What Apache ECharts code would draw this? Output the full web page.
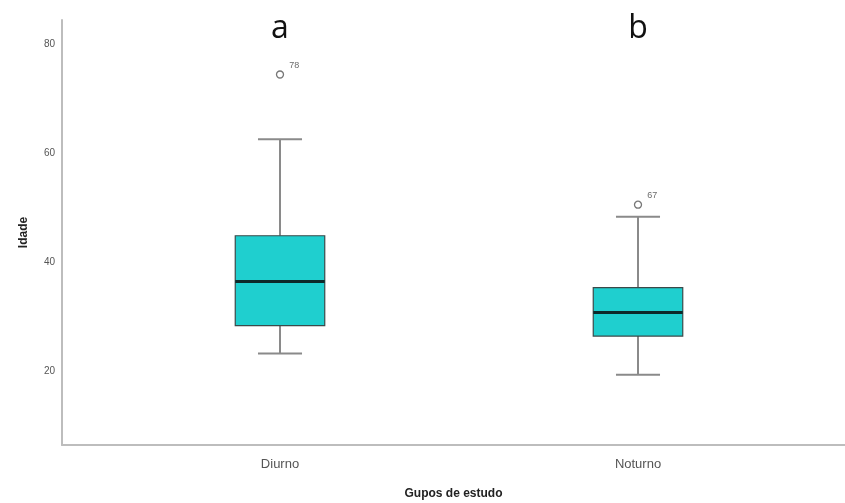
<!DOCTYPE html>
<html>
<head>
<meta charset="utf-8">
<script src="https://cdn.jsdelivr.net/npm/echarts@6/dist/echarts.min.js"></script>
<style>
  html, body { margin: 0; padding: 0; background: #fff; }
  #chart { width: 845px; height: 503px; }
</style>
</head>
<body>
<div id="chart"></div>
<script>
// Age distribution per study group
const categories = ['Diurno', 'Noturno'];
const groupLetters = ['a', 'b'];
const whiskerLow = [23.2, 19.3];
const quartile1 = [28.3, 26.4];
const medians = [36.4, 30.7];
const quartile3 = [44.8, 35.3];
const whiskerHigh = [62.5, 48.3];
const outlierValues = [74.4, 50.5];
const outlierIds = ['78', '67'];
const yTicks = [20, 40, 60, 80];

const yMin = 6.4, yMax = 84.4;

const boxData = categories.map((c, i) => [i, whiskerLow[i], quartile1[i], medians[i], quartile3[i], whiskerHigh[i]]);
const outlierData = categories.map((c, i) => [i, outlierValues[i], outlierIds[i]]);

function renderBox(params, api) {
  const idx = api.value(0);
  const pLow = api.coord([idx, api.value(1)]);
  const pQ1 = api.coord([idx, api.value(2)]);
  const pMed = api.coord([idx, api.value(3)]);
  const pQ3 = api.coord([idx, api.value(4)]);
  const pHigh = api.coord([idx, api.value(5)]);
  const band = api.size([1, 0])[0];
  const boxW = band * 0.25;
  const capW = band * 0.123;
  const cx = pMed[0];
  const whisker = { stroke: '#8a8a8a', lineWidth: 2 };
  return {
    type: 'group',
    children: [
      { type: 'line', shape: { x1: cx, y1: pHigh[1], x2: cx, y2: pQ3[1] }, style: whisker },
      { type: 'line', shape: { x1: cx, y1: pQ1[1], x2: cx, y2: pLow[1] }, style: whisker },
      { type: 'line', shape: { x1: cx - capW / 2, y1: pHigh[1], x2: cx + capW / 2, y2: pHigh[1] }, style: whisker },
      { type: 'line', shape: { x1: cx - capW / 2, y1: pLow[1], x2: cx + capW / 2, y2: pLow[1] }, style: whisker },
      { type: 'rect', shape: { x: cx - boxW / 2, y: pQ3[1], width: boxW, height: pQ1[1] - pQ3[1] },
        style: { fill: '#1fcfcf', stroke: '#3a4a4a', lineWidth: 1.2 } },
      { type: 'line', shape: { x1: cx - boxW / 2, y1: pMed[1], x2: cx + boxW / 2, y2: pMed[1] },
        style: { stroke: '#0c2a2a', lineWidth: 3 } }
    ]
  };
}

const chart = echarts.init(document.getElementById('chart'), null, { renderer: 'canvas' });
chart.setOption({
  animation: false,
  backgroundColor: '#ffffff',
  grid: [
    { left: 101, right: 28, top: 20, bottom: 58, outerBoundsMode: 'none', containLabel: false },
    { left: 62, right: 0, top: 20, bottom: 58, outerBoundsMode: 'none', containLabel: false }
  ],
  xAxis: [
    {
      gridIndex: 0, type: 'category', data: categories, boundaryGap: true,
      axisLine: { show: false }, axisTick: { show: false },
      axisLabel: { color: '#555', fontSize: 13, fontFamily: 'Liberation Sans', margin: 13 }
    },
    {
      gridIndex: 0, type: 'category', data: groupLetters, position: 'top', boundaryGap: true,
      axisLine: { show: false }, axisTick: { show: false },
      axisLabel: { color: '#111', fontSize: 32, fontFamily: 'Open Sans', margin: -25, align: 'center' }
    },
    {
      gridIndex: 1, type: 'value', min: 0, max: 1,
      axisLine: { show: true, lineStyle: { color: '#bdbdbd', width: 2 } },
      axisTick: { show: false }, axisLabel: { show: false }, splitLine: { show: false },
      name: 'Gupos de estudo', nameLocation: 'middle', nameGap: 43,
      nameTextStyle: { fontWeight: 'bold', fontSize: 12, color: '#222', fontFamily: 'Liberation Sans' }
    }
  ],
  yAxis: [
    {
      gridIndex: 0, type: 'value', min: yMin, max: yMax, show: false
    },
    {
      gridIndex: 1, type: 'value', min: yMin, max: yMax,
      axisLine: { show: true, lineStyle: { color: '#bdbdbd', width: 2 } },
      axisTick: { show: false },
      splitLine: { show: false },
      axisLabel: { customValues: yTicks, color: '#555', fontSize: 10, fontFamily: 'Liberation Sans', margin: 7 },
      name: 'Idade', nameLocation: 'middle', nameGap: 32, nameRotate: 90,
      nameTextStyle: { fontWeight: 'bold', fontSize: 12, color: '#222', fontFamily: 'Liberation Sans' }
    }
  ],
  series: [
    {
      type: 'custom', xAxisIndex: 0, yAxisIndex: 0,
      renderItem: renderBox, data: boxData,
      encode: { x: 0, y: [1, 2, 3, 4, 5] }
    },
    {
      type: 'scatter', xAxisIndex: 0, yAxisIndex: 0,
      data: outlierData, symbol: 'circle', symbolSize: 7,
      itemStyle: { color: '#fff', borderColor: '#555', borderWidth: 1.3 },
      label: {
        show: true, position: 'right', offset: [0, -9],
        formatter: p => p.value[2], fontSize: 9, color: '#444', fontFamily: 'Liberation Sans'
      }
    }
  ]
});
</script>
</body>
</html>
